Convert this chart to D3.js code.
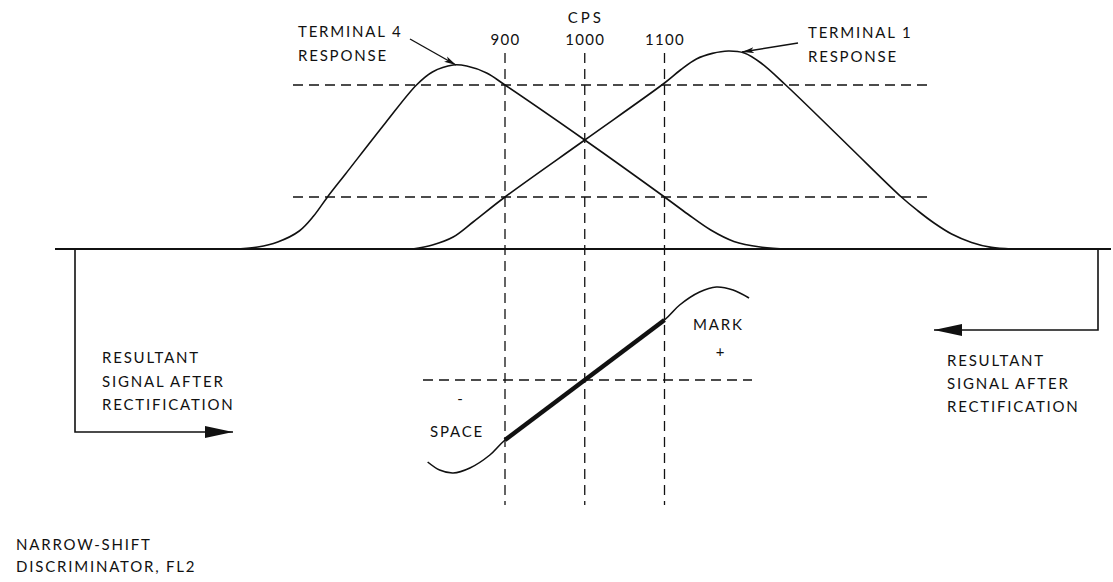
<!DOCTYPE html>
<html>
<head>
<meta charset="utf-8">
<script src="https://cdn.jsdelivr.net/npm/d3@7/dist/d3.min.js"></script>
<style>
  html, body { margin: 0; padding: 0; background: #fff; }
  svg { display: block; }
  text { font-family: Lato, "Open Sans", sans-serif; fill: #111; font-size: 15px; letter-spacing: 1.8px; }
</style>
</head>
<body>
<svg id="chart" width="1113" height="582"></svg>
<script>
// ---- data (frequency in CPS, relative amplitude) ----
const freqTicks = [900, 1000, 1100];
const axisTitle = "CPS";
const dashedLevels = [82, 26];
const terminal4 = [[560,0],[590,1],[615,3.5],[642,9],[660,16.5],[677,25.8],[700,37.5],[750,63],[789,82],[809,88.5],[835,92],[852,91.5],[877,88],[900,82],[1000,54.5],[1100,26],[1129,17.5],[1158,9.5],[1187,3.8],[1220,1],[1255,0]];
const terminal1 = [[784,0],[809,2],[835,6],[860,13.5],[900,26],[1000,54.5],[1100,83],[1120,89.5],[1140,95],[1160,97.8],[1180,99],[1200,98],[1221,93],[1252,82],[1330,51.9],[1397,26],[1418,19],[1438,13],[1460,7.5],[1485,3.3],[1510,0.8],[1535,0]];
const discriminator = [[803,-82],[818,-90],[835,-93],[856,-88],[881,-75],[900,-60],[1000,0],[1100,60],[1119,75],[1144,88],[1165,93],[1186,90],[1206,82]];
const labels4 = ["TERMINAL 4", "RESPONSE"];
const labels1 = ["TERMINAL 1", "RESPONSE"];
const resultLabel = ["RESULTANT", "SIGNAL AFTER", "RECTIFICATION"];
const captionLines = ["NARROW-SHIFT", "DISCRIMINATOR, FL2"];

const svg = d3.select("#chart");
const ink = "#111";

const x = d3.scaleLinear().domain([900, 1100]).range([505, 664.5]);
const y = d3.scaleLinear().domain([0, 100]).range([249, 49]);
const yOut = d3.scaleLinear().domain([-100, 100]).range([480, 280]);

const fMin = x.invert(55), fMax = x.invert(1111);

// defs: arrowheads
const defs = svg.append("defs");
defs.append("marker").attr("id", "ah").attr("viewBox", "0 0 12 8")
  .attr("refX", 12).attr("refY", 4).attr("markerWidth", 12).attr("markerHeight", 8)
  .attr("markerUnits", "userSpaceOnUse").attr("orient", "auto")
  .append("path").attr("d", "M0,1 L12,4 L0,7 L3,4 Z").attr("fill", ink);
defs.append("marker").attr("id", "big").attr("viewBox", "0 0 28 12")
  .attr("refX", 28).attr("refY", 6).attr("markerWidth", 28).attr("markerHeight", 12)
  .attr("markerUnits", "userSpaceOnUse").attr("orient", "auto")
  .append("path").attr("d", "M0,0 L28,6 L0,12 Z").attr("fill", ink);

// dashed grid
const dash = "10,6";
const hx0 = x.invert(293), hx1 = x.invert(932);
svg.append("g").selectAll("line").data(dashedLevels).join("line")
  .attr("x1", x(hx0)).attr("x2", x(hx1))
  .attr("y1", d => y(d)).attr("y2", d => y(d))
  .attr("stroke", ink).attr("stroke-width", 1.3).attr("stroke-dasharray", dash);
svg.append("g").selectAll("line").data(freqTicks).join("line")
  .attr("x1", d => x(d)).attr("x2", d => x(d))
  .attr("y1", 53).attr("y2", 505)
  .attr("stroke", ink).attr("stroke-width", 1.3).attr("stroke-dasharray", dash);
svg.append("line")
  .attr("x1", x(x.invert(423))).attr("x2", x(x.invert(752)))
  .attr("y1", yOut(0)).attr("y2", yOut(0))
  .attr("stroke", ink).attr("stroke-width", 1.3).attr("stroke-dasharray", dash);

// baseline
svg.append("line").attr("x1", x(fMin)).attr("x2", x(fMax)).attr("y1", y(0)).attr("y2", y(0))
  .attr("stroke", ink).attr("stroke-width", 2);

// response curves
const line = d3.line().x(d => x(d[0])).y(d => y(d[1])).curve(d3.curveCatmullRom.alpha(0.5));
[terminal4, terminal1].forEach(s => {
  svg.append("path").attr("d", line(s)).attr("fill", "none").attr("stroke", ink).attr("stroke-width", 1.6);
});

// discriminator S-curve
const sLine = d3.line().x(d => x(d[0])).y(d => yOut(d[1])).curve(d3.curveCatmullRom.alpha(0.5));
svg.append("path").attr("d", sLine(discriminator)).attr("fill", "none").attr("stroke", ink).attr("stroke-width", 1.6);
svg.append("path").attr("d", d3.line().x(d => x(d[0])).y(d => yOut(d[1]))(discriminator.filter(d => d[0] >= 900 && d[0] <= 1100)))
  .attr("fill", "none").attr("stroke", ink).attr("stroke-width", 4.5);

// top axis with tick labels
const axis = d3.axisTop(x).tickValues(freqTicks).tickSize(0).tickPadding(0).tickFormat(d3.format("d"));
const ag = svg.append("g").attr("transform", "translate(0,45)").call(axis);
ag.select(".domain").remove();
ag.selectAll("text").attr("font-family", "Lato, 'Open Sans', sans-serif").attr("font-size", 14)
  .style("letter-spacing", "1.3px").attr("fill", ink).attr("dy", 0);
svg.append("text").attr("x", x(1000) + 1).attr("y", 23).attr("text-anchor", "middle").style("letter-spacing", "3px").text(axisTitle);

// terminal labels & pointer arrows
const t4 = svg.append("text");
labels4.forEach((t, i) => t4.append("tspan").attr("x", 298).attr("y", 37 + i * 24).text(t));
const t1 = svg.append("text");
labels1.forEach((t, i) => t1.append("tspan").attr("x", 808).attr("y", 38 + i * 24).text(t));
svg.append("line").attr("x1", 410).attr("y1", 39).attr("x2", 456).attr("y2", 65)
  .attr("stroke", ink).attr("stroke-width", 1.4).attr("marker-end", "url(#ah)");
svg.append("line").attr("x1", 798).attr("y1", 43).attr("x2", 742).attr("y2", 52)
  .attr("stroke", ink).attr("stroke-width", 1.4).attr("marker-end", "url(#ah)");

// resultant signal arrows
svg.append("path").attr("d", `M${x(x.invert(75))},${y(0)} V432 H233`)
  .attr("fill", "none").attr("stroke", ink).attr("stroke-width", 1.6).attr("marker-end", "url(#big)");
svg.append("path").attr("d", `M${x(x.invert(1098))},${y(0)} V330 H934`)
  .attr("fill", "none").attr("stroke", ink).attr("stroke-width", 1.6).attr("marker-end", "url(#big)");

const rl = svg.append("text");
resultLabel.forEach((t, i) => rl.append("tspan").attr("x", 102).attr("y", 363 + i * 23.5).text(t));
const rr = svg.append("text");
resultLabel.forEach((t, i) => rr.append("tspan").attr("x", 947).attr("y", 366 + i * 23).text(t));

// mark / space labels
svg.append("text").attr("x", 693).attr("y", 330).text("MARK");
svg.append("text").attr("x", 721).attr("y", 357).attr("text-anchor", "middle").attr("font-size", 11).text("+");
svg.append("text").attr("x", 461).attr("y", 404).attr("text-anchor", "middle").text("-");
svg.append("text").attr("x", 430).attr("y", 437).text("SPACE");

// caption
const cap = svg.append("text");
captionLines.forEach((t, i) => cap.append("tspan").attr("x", 16).attr("y", 550 + i * 22).text(t));
</script>
</body>
</html>
